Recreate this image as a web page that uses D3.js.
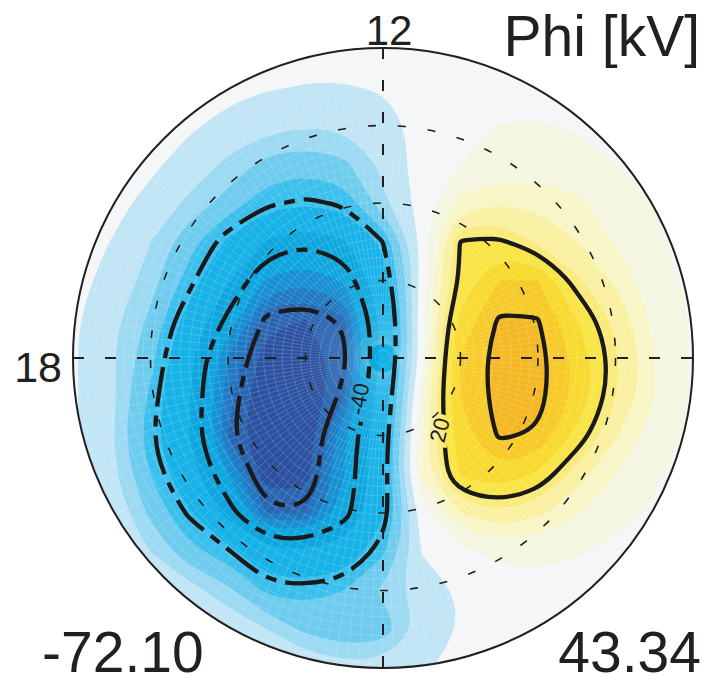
<!DOCTYPE html>
<html lang="en">
<head>
<meta charset="utf-8">
<title>Phi [kV]</title>
<script src="https://cdn.jsdelivr.net/npm/d3@7"></script>
<style>
  body { margin: 0; background: #fff; }
  text { font-family: "Liberation Sans", Arial, Helvetica, sans-serif; fill: #231f20; }
</style>
</head>
<body>
<div id="chart"></div>
<script>
// ---- data -------------------------------------------------------------
// potential (kV) on a square grid, 5 deg of colatitude apart, pole in the middle
// columns: dusk (18 MLT, left) -> dawn (06 MLT, right); rows: noon (top) -> midnight
var gridDeg = [-40, -35, -30, -25, -20, -15, -10, -5, 0, 5, 10, 15, 20, 25, 30, 35, 40];
var phiGrid = [
  [-0.5, -0.5, -0.6, -0.8, -1, -1.4, -1.6, -1.6, -1.4, -0.5, 0.3, 0.5, 0.5, 0.4, 0.3, 0.2, 0.1],
  [-0.8, -0.8, -1, -1.2, -1.5, -2.2, -2.6, -2.6, -2.2, -0.7, 0.6, 1.0, 1.0, 0.8, 0.5, 0.3, 0.2],
  [-1, -1, -1, -2, -3.5, -5.5, -6.5, -6.3, -4.5, -1, 1.8, 2.6, 2.7, 2.2, 1.3, 0.6, 0.3],
  [-1, -1, -1.8, -4, -8, -12.5, -14, -12, -6, -0.3, 2.5, 4, 4.5, 3.8, 2.5, 1.2, 0.5],
  [-1, -1.5, -3.5, -8, -13, -19, -21, -19, -8, -0.5, 8.5, 10.5, 10, 8, 4.5, 2.5, 1],
  [-1, -2.6, -7, -14, -23, -34, -39, -34, -20, -1, 20.5, 21, 15, 11, 6.5, 3, 1],
  [-1.5, -3.5, -9, -18, -32, -48, -52, -46, -25, -0.5, 21, 33, 33, 17, 10, 4.5, 1.5],
  [-1.8, -5.5, -12, -25, -42, -62, -64, -59, -30, 1, 28, 41, 40.3, 26, 14.5, 6, 2],
  [-2, -6.5, -14, -31, -53, -67, -68, -61, -30, 0, 33, 43.3, 43, 31, 17, 7, 2],
  [-2, -5.5, -17, -32, -56, -70, -70, -58, -27, 5, 33, 43, 42.5, 31, 16, 7, 2],
  [-2, -6.5, -19, -33, -58, -72, -68, -48, -24, 6, 30, 41, 39, 24, 11.5, 5, 1.5],
  [-1.5, -5.5, -16, -29, -47, -68, -67, -47, -23, 8, 27, 31, 25, 13, 7, 3, 1],
  [-1, -3.5, -12, -21, -36, -58, -59, -44, -23, 0, 11, 15, 12, 7.5, 4, 2, 0.8],
  [-1, -1.5, -7, -14, -19, -30, -32, -28, -17, -2.3, 1.5, 3.5, 3.5, 2.8, 1.5, 0.8, 0.3],
  [-0.8, -1, -2.5, -5, -10, -17, -18, -16, -10, -4, -2.2, 0.5, 1.2, 1, 0.5, 0.3, 0.2],
  [-0.5, -0.8, -1.2, -2, -3, -7, -12, -15, -13.5, -6, -2.3, 0, 0.3, 0.3, 0.2, 0.2, 0.1],
  [-0.3, -0.5, -0.6, -1, -1.5, -2.5, -3, -5, -5, -3, -1.2, -0.3, 0.1, 0.1, 0.1, 0.1, 0.1]
];

// filled levels (magnitudes below zero / above zero) and their colours
var negLevels = [2.5, 7, 11, 16, 22, 33, 47, 53, 58, 64];
var negColors = ["#c1e5f5", "#9cd9f2", "#6fccef", "#3bbfec", "#17b2e7",
                 "#0ea6df", "#168fd3", "#2079c3", "#2965b1", "#2c51a1"];
var posLevels = [2.5, 7, 11, 16, 20, 26, 33, 40];
var posColors = ["#f4f6e2", "#f8f5c6", "#faf0a2", "#f9ea7c",
                 "#f9e445", "#f8da2e", "#f7ca27", "#f5b722"];

// contour lines drawn in black
var lineNeg = [20, 40, 60];   // dashed, negative potential
var linePos = [20, 40];       // solid

var latCircles = [80, 70, 60];
var edgeLat = 50;
var extremes = ["-72.10", "43.34"];
var title = "Phi [kV]";

// contour labels: position in deg (x east, y toward midnight) and text angle
var contourLabels = [
  { text: "-40", x: -3.1, y: 5.3, angle: -80 },
  { text: "20",  x: 7.3,  y: 9.3, angle: -76 }
];

// ---- layout -----------------------------------------------------------
var width = 706, height = 684;
var cx = 383, cy = 358, R = 310;
var n = gridDeg.length;

var colat = d3.scaleLinear().domain([0, 90 - edgeLat]).range([0, R]);
var gridToDeg = d3.scaleLinear().domain([0.5, n - 0.5]).range([gridDeg[0], gridDeg[n - 1]]);
function px(g) { return cx + colat(gridToDeg(g)); }
function py(g) { return cy + colat(gridToDeg(g)); }

var svg = d3.select("#chart").append("svg")
  .attr("width", width)
  .attr("height", height);

var defs = svg.append("defs");
defs.append("clipPath").attr("id", "disc")
  .append("circle").attr("cx", cx).attr("cy", cy).attr("r", R);

// gaps in the contour lines under the labels
var mask = defs.append("mask").attr("id", "labelgap")
  .attr("maskUnits", "userSpaceOnUse")
  .attr("x", 0).attr("y", 0).attr("width", width).attr("height", height);
mask.append("rect").attr("width", width).attr("height", height).attr("fill", "#fff");
contourLabels.forEach(function (d) {
  var lx = cx + colat(d.x), ly = cy + colat(d.y);
  var w = d.text.length * 12 + 8;
  mask.append("rect")
    .attr("x", -w / 2).attr("y", -11).attr("width", w).attr("height", 22)
    .attr("fill", "#000")
    .attr("transform", "translate(" + lx + "," + ly + ") rotate(" + d.angle + ")");
});

// ---- contours ---------------------------------------------------------
var flat = [];
phiGrid.forEach(function (row) { row.forEach(function (v) { flat.push(v); }); });
var flatNeg = flat.map(function (v) { return -v; });

var ringLine = d3.line()
  .x(function (p) { return px(p[0]); })
  .y(function (p) { return py(p[1]); })
  .curve(d3.curveBasisClosed);

function geoPath(geo) {
  var s = "";
  geo.coordinates.forEach(function (poly) {
    poly.forEach(function (ring) {
      var pts = ring.slice();
      var a = pts[0], b = pts[pts.length - 1];
      if (pts.length > 2 && a[0] === b[0] && a[1] === b[1]) pts.pop();
      if (pts.length > 2) s += ringLine(pts);
    });
  });
  return s;
}

var contours = d3.contours().size([n, n]);

svg.append("circle")
  .attr("cx", cx).attr("cy", cy).attr("r", R)
  .attr("fill", "#f4f6f8");

var fills = svg.append("g").attr("clip-path", "url(#disc)");

fills.selectAll("path.neg")
  .data(contours.thresholds(negLevels)(flatNeg))
  .enter().append("path")
  .attr("class", "neg")
  .attr("d", geoPath)
  .attr("fill", function (d, i) { return negColors[i]; })
  .attr("fill-rule", "evenodd");

fills.selectAll("path.pos")
  .data(contours.thresholds(posLevels)(flat))
  .enter().append("path")
  .attr("class", "pos")
  .attr("d", geoPath)
  .attr("fill", function (d, i) { return posColors[i]; })
  .attr("fill-rule", "evenodd");

// faint plotting mesh
var mesh = svg.append("g")
  .attr("clip-path", "url(#disc)")
  .attr("fill", "none")
  .attr("stroke", "#fff")
  .attr("stroke-opacity", 0.28)
  .attr("stroke-width", 0.6);
d3.range(1, 41, 1.2).forEach(function (c) {
  mesh.append("circle").attr("cx", cx).attr("cy", cy).attr("r", colat(c));
});
d3.range(0, 360, 2.2).forEach(function (a) {
  var t = a * Math.PI / 180;
  mesh.append("line")
    .attr("x1", cx + 14 * Math.cos(t)).attr("y1", cy + 14 * Math.sin(t))
    .attr("x2", cx + R * Math.cos(t)).attr("y2", cy + R * Math.sin(t));
});

// latitude circles and the noon-midnight / dawn-dusk lines
var grid = svg.append("g").attr("fill", "none").attr("stroke", "#231f20");
grid.selectAll("circle.lat")
  .data(latCircles)
  .enter().append("circle")
  .attr("class", "lat")
  .attr("cx", cx).attr("cy", cy)
  .attr("r", function (d) { return colat(90 - d); })
  .attr("stroke-width", 1.6)
  .attr("stroke-dasharray", "8,22");
grid.append("line")
  .attr("x1", cx - R).attr("y1", cy).attr("x2", cx + R).attr("y2", cy)
  .attr("stroke-width", 2).attr("stroke-dasharray", "11,21");
grid.append("line")
  .attr("x1", cx).attr("y1", cy - R).attr("x2", cx).attr("y2", cy + R)
  .attr("stroke-width", 2).attr("stroke-dasharray", "11,21");

// black contour lines
var lines = svg.append("g")
  .attr("clip-path", "url(#disc)")
  .append("g")
  .attr("mask", "url(#labelgap)")
  .attr("fill", "none")
  .attr("stroke", "#1a1a1a")
  .attr("stroke-width", 4.3);

lines.selectAll("path.ln")
  .data(contours.thresholds(lineNeg)(flatNeg))
  .enter().append("path")
  .attr("class", "ln")
  .attr("d", geoPath)
  .attr("stroke-dasharray", "40,9,11,9");

lines.selectAll("path.lp")
  .data(contours.thresholds(linePos)(flat))
  .enter().append("path")
  .attr("class", "lp")
  .attr("d", geoPath);

svg.selectAll("text.clabel")
  .data(contourLabels)
  .enter().append("text")
  .attr("class", "clabel")
  .attr("transform", function (d) {
    return "translate(" + (cx + colat(d.x)) + "," + (cy + colat(d.y)) + ") rotate(" + d.angle + ")";
  })
  .attr("text-anchor", "middle")
  .attr("dy", "0.35em")
  .attr("font-size", 22)
  .text(function (d) { return d.text; });

// outer boundary
svg.append("circle")
  .attr("cx", cx).attr("cy", cy).attr("r", R)
  .attr("fill", "none")
  .attr("stroke", "#231f20")
  .attr("stroke-width", 2);

// ---- texts ------------------------------------------------------------
svg.append("text")
  .attr("x", cx + 6).attr("y", cy - R - 3)
  .attr("text-anchor", "middle")
  .attr("font-size", 42)
  .text("12");

svg.append("text")
  .attr("x", cx - R - 11).attr("y", cy + 24)
  .attr("text-anchor", "end")
  .attr("font-size", 43)
  .text("18");

svg.append("text")
  .attr("x", 700).attr("y", 56)
  .attr("text-anchor", "end")
  .attr("font-size", 57)
  .text(title);

svg.append("text")
  .attr("x", 42).attr("y", 672)
  .attr("font-size", 57)
  .text(extremes[0]);

svg.append("text")
  .attr("x", 701).attr("y", 672)
  .attr("text-anchor", "end")
  .attr("font-size", 57)
  .text(extremes[1]);
</script>
</body>
</html>
